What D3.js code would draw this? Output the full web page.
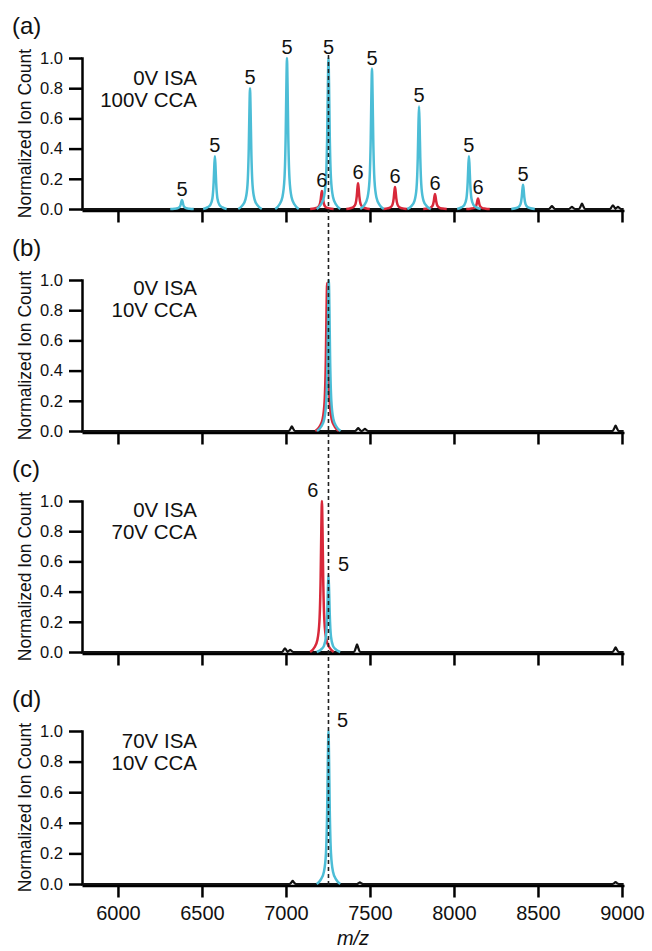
<!DOCTYPE html>
<html>
<head>
<meta charset="utf-8">
<script src="https://cdnjs.cloudflare.com/ajax/libs/d3/7.8.5/d3.min.js"></script>
<style>
  body { margin: 0; background: #fff; }
  svg text { font-family: "Liberation Sans", Arial, sans-serif; fill: #111; }
</style>
</head>
<body>
<div id="chart"></div>
<script>
// Tick values and panel texts
let mzTicks = [6000, 6500, 7000, 7500, 8000, 8500, 9000];
let intensityTicks = [0, 0.2, 0.4, 0.6, 0.8, 1.0];
let panelNames = ['(a)', '(b)', '(c)', '(d)'];
let isaText = ['0V ISA', '0V ISA', '0V ISA', '70V ISA'];
let ccaText = ['100V CCA', '10V CCA', '70V CCA', '10V CCA'];

// Peaks [m/z, normalized ion count], 5+ in cyan and 6+ in red
let cyanA = [[6381, 0.06], [6577, 0.35], [6786, 0.80], [7006, 1.0], [7253, 1.0],
  [7512, 0.93], [7792, 0.68], [8089, 0.35], [8411, 0.16]];
let redA = [[7214, 0.12], [7429, 0.17], [7649, 0.145], [7887, 0.10], [8143, 0.07]];
let cyanB = [[7255, 1.0]];
let redB = [[7245, 0.98]];
let cyanC = [[7253, 0.51]];
let redC = [[7214, 1.0]];
let cyanD = [[7253, 1.0]];
let redD = [];

// Small bumps in the black trace
let noiseA = [[8583, 0.02], [8702, 0.015], [8762, 0.035], [8946, 0.025], [8976, 0.015]];
let noiseB = [[7035, 0.03], [7430, 0.02], [7470, 0.015], [8962, 0.035]];
let noiseC = [[6994, 0.025], [7025, 0.015], [7423, 0.05], [8962, 0.03]];
let noiseD = [[7040, 0.02], [7440, 0.01], [8962, 0.012]];

// Charge labels [m/z, height, text]
let labelsA = cyanA.map(p => [p[0], p[1], '5']).concat(redA.map(p => [p[0], p[1], '6']));
let labelsB = [];
let labelsC = [[7214, 1.0, '6'], [7253, 0.51, '5']];
let labelsD = [[7253, 1.0, '5']];

// Peak profile (m/z offset, fraction of height)
let profileOffset = [-70, -45, -27, -15, -7.5, -3.5, 0, 3.5, 7.5, 15, 27, 45, 70];
let profileFrac = [0, 0.03, 0.08, 0.2, 0.5, 0.82, 1, 0.82, 0.5, 0.2, 0.08, 0.03, 0];
let bumpOffset = [-18, -8, 0, 8, 18];
let bumpFrac = [0, 0.5, 1, 0.5, 0];

let markerMz = 7253;
let traceStart = 5790;
let traceEnd = 9010;

let panels = [
  {cyan: cyanA, red: redA, noise: noiseA, labels: labelsA},
  {cyan: cyanB, red: redB, noise: noiseB, labels: labelsB},
  {cyan: cyanC, red: redC, noise: noiseC, labels: labelsC},
  {cyan: cyanD, red: redD, noise: noiseD, labels: labelsD}
];

// Layout
let svgWidth = 652;
let svgHeight = 951;
let plotLeft = 82;
let plotRight = 624;
let panelTop = [58, 280, 501, 731];
let panelBottom = [209, 431, 652, 884];
let annoY = [85, 295, 517, 748];
let labelShift = [[], [], [[-9, 0], [15, 0]], [[14, 0]]];
let cyanColor = '#4cbdd6';
let redColor = '#d8283a';

let svg = d3.select('#chart')
  .append('svg')
  .attr('width', svgWidth)
  .attr('height', svgHeight);

let x = d3.scaleLinear()
  .domain([5786, 9012])
  .range([plotLeft, plotRight]);

function peakPoints(p, offsets, fracs) {
  return offsets.map((o, k) => [p[0] + o, p[1] * fracs[k]]);
}

// one black trace: baseline with its small bumps
function tracePoints(noise) {
  let pts = [[traceStart, 0]];
  noise.forEach(p => { pts = pts.concat(peakPoints(p, bumpOffset, bumpFrac)); });
  pts.push([traceEnd, 0]);
  return pts;
}

panels.forEach(function(panel, i) {
  let y = d3.scaleLinear()
    .domain([0, 1])
    .range([panelBottom[i], panelTop[i]]);

  let line = d3.line()
    .x(d => x(d[0]))
    .y(d => y(d[1]))
    .curve(d3.curveMonotoneX);

  let g = svg.append('g');

  // X axis
  let bottomAxis = d3.axisBottom(x)
    .tickValues(mzTicks)
    .tickFormat(d3.format('d'))
    .tickSize(12)
    .tickSizeOuter(0)
    .tickPadding(8);
  if (i < 3) bottomAxis.tickFormat('');

  let xAxis = g.append('g')
    .attr('transform', `translate(0, ${panelBottom[i] + 1.5})`)
    .call(bottomAxis);
  xAxis.select('.domain').attr('stroke-width', 2.5);
  xAxis.selectAll('line').attr('stroke-width', 2.5);
  xAxis.selectAll('text').attr('font-size', 20);

  // Y axis
  let leftAxis = d3.axisLeft(y)
    .tickValues(intensityTicks)
    .tickFormat(d3.format('.1f'))
    .tickSize(13)
    .tickSizeOuter(0)
    .tickPadding(6);

  let yAxis = g.append('g')
    .attr('transform', `translate(${plotLeft}, 0)`)
    .call(leftAxis);
  yAxis.select('.domain').attr('stroke-width', 2.5).attr('stroke-linecap', 'square');
  yAxis.selectAll('line').attr('stroke-width', 2.5);
  yAxis.selectAll('text').attr('font-size', 16.5);

  // Y label
  g.append('text')
    .attr('transform', `translate(31, ${y(0.5)}) rotate(-90)`)
    .attr('text-anchor', 'middle')
    .attr('font-size', 17.5)
    .text('Normalized Ion Count');

  // Panel name
  g.append('text')
    .attr('x', 12)
    .attr('y', panelTop[i] - 24)
    .attr('font-size', 24)
    .text(panelNames[i]);

  // Voltages
  g.append('text')
    .attr('x', 197)
    .attr('y', annoY[i])
    .attr('text-anchor', 'end')
    .attr('font-size', 20.5)
    .text(isaText[i]);
  g.append('text')
    .attr('x', 197)
    .attr('y', annoY[i] + 22)
    .attr('text-anchor', 'end')
    .attr('font-size', 20.5)
    .text(ccaText[i]);

  // Black trace
  g.append('path')
    .attr('d', line(tracePoints(panel.noise)))
    .attr('fill', 'none')
    .attr('stroke', '#111')
    .attr('stroke-width', 2.2);

  // Coloured peaks
  panel.red.forEach(function(p) {
    g.append('path')
      .attr('d', line(peakPoints(p, profileOffset, profileFrac)))
      .attr('fill', 'none')
      .attr('stroke', redColor)
      .attr('stroke-width', 2.5);
  });
  panel.cyan.forEach(function(p) {
    g.append('path')
      .attr('d', line(peakPoints(p, profileOffset, profileFrac)))
      .attr('fill', 'none')
      .attr('stroke', cyanColor)
      .attr('stroke-width', 2.5);
  });

  // Charge labels
  panel.labels.forEach(function(l, k) {
    let shift = labelShift[i][k] || [0, 0];
    g.append('text')
      .attr('x', x(l[0]) + shift[0])
      .attr('y', y(l[1]) - 4 + shift[1])
      .attr('text-anchor', 'middle')
      .attr('font-size', 20)
      .text(l[2]);
  });
});

// Dashed marker line through all panels
svg.append('line')
  .attr('x1', x(markerMz))
  .attr('x2', x(markerMz))
  .attr('y1', 55)
  .attr('y2', 887)
  .attr('stroke', '#222')
  .attr('stroke-width', 1.6)
  .attr('stroke-dasharray', '4,3');

// m/z label
svg.append('text')
  .attr('x', (plotLeft + plotRight) / 2)
  .attr('y', 945)
  .attr('text-anchor', 'middle')
  .attr('font-size', 20)
  .attr('font-style', 'italic')
  .text('m/z');
</script>
</body>
</html>
